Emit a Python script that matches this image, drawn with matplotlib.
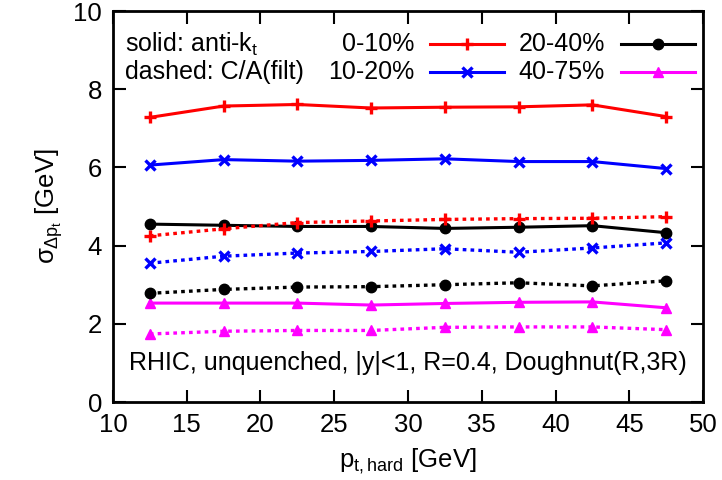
import matplotlib
matplotlib.use("Agg")
import matplotlib.pyplot as plt
from matplotlib.lines import Line2D

plt.rcParams['font.family'] = ['Liberation Sans', 'DejaVu Sans']
plt.rcParams['mathtext.fontset'] = 'custom'
plt.rcParams['mathtext.rm'] = 'Liberation Sans'
plt.rcParams['mathtext.it'] = 'Liberation Sans'

pt_hard = [12.5, 17.5, 22.5, 27.5, 32.5, 37.5, 42.5, 47.5]

akt_0_10 = [7.28, 7.57, 7.61, 7.52, 7.54, 7.55, 7.60, 7.30]
akt_10_20 = [6.06, 6.20, 6.16, 6.18, 6.22, 6.15, 6.15, 5.97]
akt_20_40 = [4.55, 4.52, 4.49, 4.49, 4.44, 4.47, 4.51, 4.33]
akt_40_75 = [2.53, 2.53, 2.53, 2.48, 2.52, 2.55, 2.56, 2.41]

ca_0_10 = [4.25, 4.43, 4.59, 4.63, 4.67, 4.69, 4.70, 4.74]
ca_10_20 = [3.55, 3.73, 3.81, 3.85, 3.92, 3.83, 3.94, 4.07]
ca_20_40 = [2.78, 2.88, 2.94, 2.95, 3.00, 3.05, 2.97, 3.10]
ca_40_75 = [1.74, 1.81, 1.83, 1.83, 1.91, 1.92, 1.92, 1.85]

labels = ['0-10%', '10-20%', '20-40%', '40-75%']
colors = ['#ff0000', '#0000ff', '#000000', '#ff00ff']
markers = ['+', 'x', 'o', '^']
msizes = [8.5, 7.5, 7.5, 6.5]
mews = [2.4, 2.4, 1, 1]

fig = plt.figure(figsize=(7.22, 4.8), dpi=100)
ax = fig.add_axes([0.1565, 0.1625, 0.8172, 0.8145])

akt = [akt_0_10, akt_10_20, akt_20_40, akt_40_75]
ca = [ca_0_10, ca_10_20, ca_20_40, ca_40_75]
for s, c, m, ms, mew in zip(akt, colors, markers, msizes, mews):
    ax.plot(pt_hard, s, color=c, lw=2.2, marker=m, ms=ms, mew=mew, mec=c, mfc=c)
for s, c, m, ms, mew in zip(ca, colors, markers, msizes, mews):
    ax.plot(pt_hard, s, color=c, lw=2.4, ls=(0, (1.1, 1.25)), dash_capstyle='butt',
            marker=m, ms=ms, mew=mew, mec=c, mfc=c)

ax.set_xlim(10, 50)
ax.set_ylim(0, 10)
ax.set_xticks(range(10, 51, 5))
ax.set_yticks(range(0, 11, 2))
ax.tick_params(direction='in', length=9, width=1.5, top=True, right=True,
               labelsize=18.5, pad=8)
for sp in ax.spines.values():
    sp.set_linewidth(2)

ax.set_xlabel(r'p$_{\mathrm{t,hard}}$ [GeV]', fontsize=18.5, labelpad=7)
ax.set_ylabel(r'$\sigma_{\Delta p_t}$ [GeV]', fontsize=18.5, labelpad=6)

# legend (gnuplot-style)
fs = 18
ax.text(0.02, 0.915, r'solid: anti-k$_\mathrm{t}$', transform=ax.transAxes, fontsize=fs, va='center', ha='left')
ax.text(0.02, 0.843, 'dashed: C/A(filt)', transform=ax.transAxes, fontsize=fs, va='center', ha='left')

def leg_entry(xtext, y, label, c, m, ms, mew):
    ax.text(xtext, y, label, transform=ax.transAxes, fontsize=fs, va='center', ha='right')
    x0 = xtext + 0.027
    x1 = x0 + 0.125
    ln = Line2D([x0, x1], [y, y], transform=ax.transAxes, color=c, lw=2.2)
    mk = Line2D([(x0 + x1) / 2], [y], transform=ax.transAxes, color=c, marker=m,
                ms=ms, mew=mew, mec=c, mfc=c, ls='none')
    ax.add_line(ln)
    ax.add_line(mk)

rows = [0.915, 0.843]
cols = [0.51, 0.834]
for i in range(4):
    col = i // 2
    row = i % 2
    leg_entry(cols[col], rows[row], labels[i], colors[i], markers[i], msizes[i], mews[i])

ax.text(0.5, 0.1, 'RHIC, unquenched, |y|<1, R=0.4, Doughnut(R,3R)', transform=ax.transAxes,
        fontsize=fs, ha='center', va='center')

fig.savefig('out.png', dpi=100)
